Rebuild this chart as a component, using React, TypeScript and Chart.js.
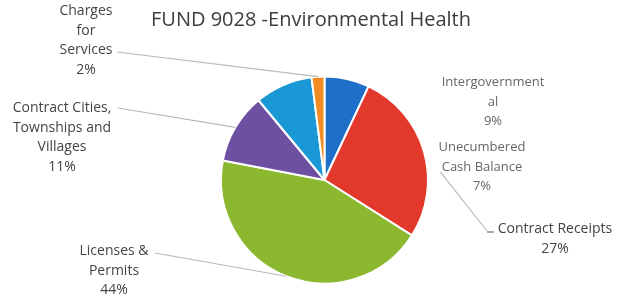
import React, { useEffect, useRef } from "react";
import { Chart, registerables } from "chart.js";

Chart.register(...registerables);

const TITLE = "FUND 9028 -Environmental Health";
const categories = [
  "Unecumbered Cash Balance",
  "Contract Receipts",
  "Licenses & Permits",
  "Contract Cities, Townships and Villages",
  "Intergovernmental",
  "Charges for Services",
];
const values = [7, 27, 44, 11, 9, 2];
const colors = ["#1F6FC9", "#E3382C", "#8BB82E", "#6E50A2", "#1A98D5", "#F38A22"];

type Lbl = { lines: string[]; x: number; y: number; size: number; color: string; anchor?: [number, number]; frac?: number; tick?: boolean };
const labels: Lbl[] = [
  { lines: ["Unecumbered", "Cash Balance", "7%"], x: 482, y: 137, size: 13, color: "#666" },
  { lines: ["Contract Receipts", "27%"], x: 555, y: 218, size: 14, color: "#444", anchor: [487, 231], frac: 0.74, tick: true },
  { lines: ["Licenses &", "Permits", "44%"], x: 114, y: 240, size: 14, color: "#444", anchor: [155, 253], frac: 1 },
  { lines: ["Contract Cities,", "Townships and", "Villages", "11%"], x: 62, y: 97, size: 14, color: "#444", anchor: [118, 108], frac: 1 },
  { lines: ["Intergovernment", "al", "9%"], x: 493, y: 72, size: 13, color: "#666" },
  { lines: ["Charges", "for", "Services", "2%"], x: 86, y: 0, size: 14, color: "#444", anchor: [117, 52], frac: 1 },
];

const leaderPlugin = {
  id: "leaders",
  afterDatasetsDraw(chart: any) {
    const ctx = chart.ctx;
    const meta = chart.getDatasetMeta(0);
    ctx.save();
    ctx.strokeStyle = "#b8b8b8";
    ctx.lineWidth = 1.2;
    labels.forEach((l, i) => {
      if (!l.anchor) return;
      const arc = meta.data[i];
      const mid = (arc.startAngle + arc.endAngle) / 2;
      const px = arc.x + Math.cos(mid) * arc.outerRadius;
      const py = arc.y + Math.sin(mid) * arc.outerRadius;
      const [ax, ay] = l.anchor;
      const f = l.frac ?? 1;
      ctx.beginPath();
      ctx.moveTo(ax, ay);
      ctx.lineTo(ax + (px - ax) * f, ay + (py - ay) * f);
      ctx.stroke();
      if (l.tick) {
        ctx.beginPath();
        ctx.strokeStyle = "#777";
        ctx.moveTo(ax, ay + 1);
        ctx.lineTo(ax + 7, ay + 1);
        ctx.stroke();
        ctx.strokeStyle = "#b8b8b8";
      }
    });
    ctx.restore();
  },
};

export default function App() {
  const ref = useRef<HTMLCanvasElement>(null);
  useEffect(() => {
    document.body.style.margin = "0";
    const chart = new Chart(ref.current!, {
      type: "pie",
      data: {
        labels: categories,
        datasets: [
          {
            data: values,
            backgroundColor: colors,
            borderColor: "#ffffff",
            borderWidth: 2,
          },
        ],
      },
      options: {
        animation: false,
        responsive: true,
        maintainAspectRatio: false,
        layout: { padding: { left: 220, right: 188, top: 75, bottom: 13 } },
        plugins: { legend: { display: false }, tooltip: { enabled: false }, title: { display: false } },
      },
      plugins: [leaderPlugin],
    });
    return () => chart.destroy();
  }, []);

  return (
    <div style={{ position: "relative", width: 617, height: 298, background: "#fff", overflow: "hidden" }}>
      <canvas ref={ref} />
      <div
        style={{
          position: "absolute",
          left: 0,
          width: 622,
          top: 5,
          textAlign: "center",
          fontFamily: "'Open Sans', sans-serif",
          fontSize: 20,
          color: "#3c3c3c",
          whiteSpace: "nowrap",
        }}
      >
        {TITLE}
      </div>
      {labels.map((l, i) => (
        <div
          key={i}
          style={{
            position: "absolute",
            left: l.x - 80,
            width: 160,
            top: l.y,
            textAlign: "center",
            fontFamily: "'Open Sans', sans-serif",
            fontSize: l.size,
            lineHeight: "19.5px",
            color: l.color,
            whiteSpace: "nowrap",
          }}
        >
          {l.lines.map((s, j) => (
            <div key={j}>{s}</div>
          ))}
        </div>
      ))}
    </div>
  );
}
